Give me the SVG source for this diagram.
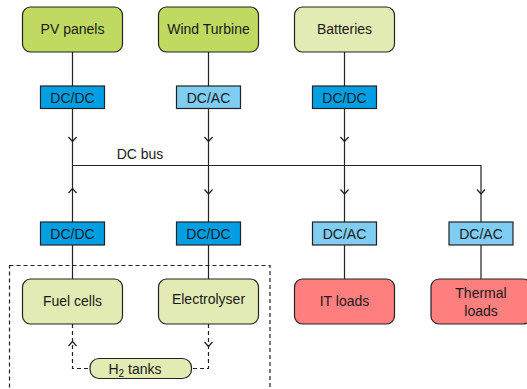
<svg xmlns="http://www.w3.org/2000/svg" width="527" height="389" viewBox="0 0 527 389">
<style>
text{font-family:"Liberation Sans",Arial,sans-serif;font-size:14px;fill:#1a1a1a;text-anchor:middle}
.node{stroke:#222;stroke-width:1.2}
.src{fill:#bfd961}
.lt{fill:#e2ebb3}
.dcdc{fill:#009fe3}
.dcac{fill:#7fcdf2}
.load{fill:#ff7f7f}
.ln{fill:none;stroke:#222;stroke-width:1.2}
.ds{stroke-dasharray:4 3}
.ah{fill:none;stroke:#222;stroke-width:1.2}
</style>
<g id="connectors">
<path class="ln" d="M72.5 52V86M208.5 52V86M344.5 52V86"/>
<path class="ln" d="M72.5 108.5V222M208.5 108.5V222M344.5 108.5V222M72.5 165.5H481V222"/>
<path class="ln" d="M72.5 245V279M208.5 245V279M344.5 245V279M481 245V279"/>
<path class="ah" d="M68.5 137L72.5 141.5L76.5 137M204.5 137L208.5 141.5L212.5 137M340.5 137L344.5 141.5L348.5 137"/>
<path class="ah" d="M68.5 193L72.5 188.5L76.5 193M204.5 189.5L208.5 194L212.5 189.5M340.5 189.5L344.5 194L348.5 189.5M477 189.5L481 194L485 189.5"/>
<path class="ln ds" d="M72.5 324V368.5H90M208.5 324V368.5H191.5"/>
<path class="ah" d="M68.5 346L72.5 341.5L76.5 346M204.5 342L208.5 346.5L212.5 342"/>
<rect class="ln ds" x="9.5" y="265.5" width="260.5" height="140"/>
<text x="140" y="159">DC bus</text>
</g>
<g id="pv"><rect class="node src" x="22.5" y="7" width="100" height="45" rx="8"/><text x="72.5" y="34">PV panels</text></g>
<g id="wind"><rect class="node src" x="158.5" y="7" width="100" height="45" rx="8"/><text x="208.5" y="34">Wind Turbine</text></g>
<g id="batteries"><rect class="node lt" x="294.5" y="7" width="100" height="45" rx="8"/><text x="344.5" y="34">Batteries</text></g>
<g id="conv-pv"><rect class="node dcdc" x="40.5" y="86" width="64" height="22.5"/><text x="72.5" y="103">DC/DC</text></g>
<g id="conv-wind"><rect class="node dcac" x="176.5" y="86" width="64" height="22.5"/><text x="208.5" y="103">DC/AC</text></g>
<g id="conv-bat"><rect class="node dcdc" x="312.5" y="86" width="64" height="22.5"/><text x="344.5" y="103">DC/DC</text></g>
<g id="conv-fc"><rect class="node dcdc" x="40.5" y="222" width="64" height="23"/><text x="72.5" y="239">DC/DC</text></g>
<g id="conv-el"><rect class="node dcdc" x="176.5" y="222" width="64" height="23"/><text x="208.5" y="239">DC/DC</text></g>
<g id="conv-it"><rect class="node dcac" x="312.5" y="222" width="64" height="23"/><text x="344.5" y="239">DC/AC</text></g>
<g id="conv-th"><rect class="node dcac" x="449" y="222" width="64" height="23"/><text x="481" y="239">DC/AC</text></g>
<g id="fuelcells"><rect class="node lt" x="22.5" y="279" width="100" height="45" rx="8"/><text x="72.5" y="306">Fuel cells</text></g>
<g id="electrolyser"><rect class="node lt" x="158.5" y="279" width="100" height="45" rx="8"/><text x="208.5" y="304">Electrolyser</text></g>
<g id="itloads"><rect class="node load" x="294.5" y="279" width="100" height="45" rx="8"/><text x="344.5" y="306">IT loads</text></g>
<g id="thermal"><rect class="node load" x="431" y="279" width="100" height="45" rx="8"/><text x="481" y="298">Thermal</text><text x="481" y="315.5">loads</text></g>
<g id="h2tanks"><rect class="node lt" x="90" y="358.5" width="101.5" height="20" rx="9"/><text x="135" y="373.5">H<tspan font-size="10" dy="3">2</tspan><tspan dy="-3"> tanks</tspan></text></g>
</svg>
